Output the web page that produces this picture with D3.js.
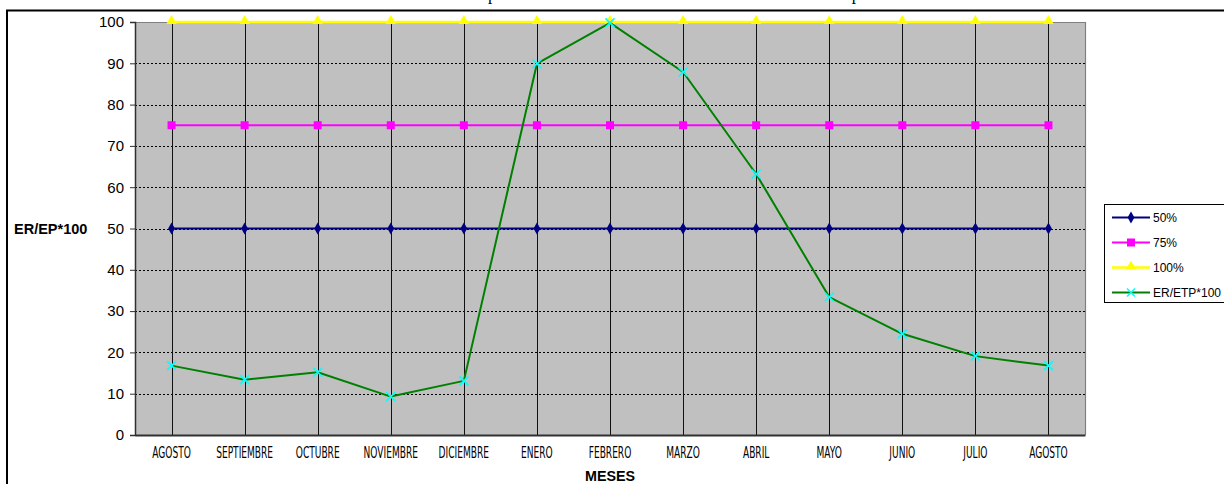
<!DOCTYPE html>
<html>
<head>
<meta charset="utf-8">
<script src="https://cdn.jsdelivr.net/npm/d3@7"></script>
<style>
  html, body { margin: 0; padding: 0; background: #fff; }
  svg { display: block; }
</style>
</head>
<body>
<svg id="chart" width="1224" height="484"></svg>
<script>
// Months of the period (August to August)
const months = ["AGOSTO", "SEPTIEMBRE", "OCTUBRE", "NOVIEMBRE", "DICIEMBRE", "ENERO",
  "FEBRERO", "MARZO", "ABRIL", "MAYO", "JUNIO", "JULIO", "AGOSTO"];

// Reference thresholds
const s50 = [50, 50, 50, 50, 50, 50, 50, 50, 50, 50, 50, 50, 50];
const s75 = [75, 75, 75, 75, 75, 75, 75, 75, 75, 75, 75, 75, 75];
const s100 = [100, 100, 100, 100, 100, 100, 100, 100, 100, 100, 100, 100, 100];

// Real / potential evapotranspiration ratio, in percent
const erEtp = [16.8, 13.4, 15.2, 9.3, 13.1, 89.9, 99.8, 87.9, 63.2, 33.4, 24.5, 19.1, 16.8];

const yTicks = [0, 10, 20, 30, 40, 50, 60, 70, 80, 90, 100];
const seriesNames = ["50%", "75%", "100%", "ER/ETP*100"];

const svg = d3.select("#chart");

const plot = { left: 135, top: 22, right: 1085, bottom: 435 };

const x = d3.scaleBand()
  .domain(d3.range(months.length))
  .range([plot.left, plot.right])
  .padding(0);
const cx = i => x(i) + x.bandwidth() / 2;

const y = d3.scaleLinear().domain([0, 100]).range([plot.bottom, plot.top]);

// Outer chart frame
svg.append("rect")
  .attr("x", 7).attr("y", 10.5)
  .attr("width", 1300).attr("height", 600)
  .attr("fill", "none").attr("stroke", "#000").attr("stroke-width", 2);

// Title line, sitting above the top edge of the page
const title = svg.append("text")
  .attr("y", -0.4)
  .attr("font-family", "'Liberation Serif','Times New Roman',serif")
  .attr("font-size", 16)
  .attr("fill", "#000")
  .text("Comportamiento mensual de la relación ER/EP*100 en el periodo");
{
  const node = title.node();
  const a = node.getStartPositionOfChar(3).x;
  const b = node.getStartPositionOfChar(54).x;
  const k = (853 - 489) / (b - a);
  title.attr("font-size", 16 * k);
  const a2 = node.getStartPositionOfChar(3).x;
  title.attr("x", 488 - a2);
}

// Plot area background
svg.append("rect")
  .attr("x", plot.left).attr("y", plot.top)
  .attr("width", plot.right - plot.left).attr("height", plot.bottom - plot.top)
  .attr("fill", "#c0c0c0");

// Top and right border of the plot area
svg.append("path")
  .attr("d", `M${plot.left},${plot.top + 0.5}H${plot.right + 0.5}V${plot.bottom}`)
  .attr("fill", "none").attr("stroke", "#808080").attr("stroke-width", 1.2);

// Horizontal dashed gridlines
svg.append("g")
  .selectAll("line")
  .data(yTicks.filter(t => t > 0 && t < 100))
  .join("line")
  .attr("x1", plot.left).attr("x2", plot.right)
  .attr("y1", d => Math.round(y(d)) + 0.5).attr("y2", d => Math.round(y(d)) + 0.5)
  .attr("stroke", "#000").attr("stroke-width", 1)
  .attr("stroke-dasharray", "2,2");

// Vertical gridlines at each month
svg.append("g")
  .selectAll("line")
  .data(d3.range(months.length))
  .join("line")
  .attr("x1", d => Math.round(cx(d)) + 0.5).attr("x2", d => Math.round(cx(d)) + 0.5)
  .attr("y1", plot.top).attr("y2", plot.bottom)
  .attr("stroke", "#111").attr("stroke-width", 1);

// Y axis
const yAxis = svg.append("g")
  .attr("transform", `translate(${plot.left},0)`)
  .call(d3.axisLeft(y).tickValues(yTicks).tickSize(5).tickPadding(6));
yAxis.select(".domain").attr("stroke", "#303030").attr("stroke-width", 1.5);
yAxis.selectAll(".tick line").attr("stroke", "#303030");
yAxis.selectAll(".tick text")
  .attr("font-family", "'Liberation Sans',Arial,sans-serif")
  .attr("font-size", 15)
  .attr("fill", "#000");

// X axis
const xAxis = svg.append("g")
  .attr("transform", `translate(0,${plot.bottom})`)
  .call(d3.axisBottom(x).tickSize(0).tickPadding(12).tickFormat(i => months[i]));
xAxis.select(".domain").attr("stroke", "#303030").attr("stroke-width", 2);
const xLabels = xAxis.selectAll(".tick text")
  .attr("font-family", "'Liberation Sans Narrow','DejaVu Sans Condensed',sans-serif")
  .attr("font-size", 15.5)
  .attr("fill", "#000");
{
  // Condense the month labels horizontally
  const ref = xLabels.filter((d, i) => i === 1).node();
  const w = ref.getComputedTextLength();
  const k = 57 / w;
  xLabels.attr("x", 0).attr("transform", `scale(${k},1)`);
}

// Axis titles
svg.append("text")
  .attr("x", 14).attr("y", 234)
  .attr("font-family", "'Liberation Sans',Arial,sans-serif")
  .attr("font-size", 14.5).attr("font-weight", "bold")
  .text("ER/EP*100");

svg.append("text")
  .attr("x", 610).attr("y", 481)
  .attr("text-anchor", "middle")
  .attr("font-family", "'Liberation Sans',Arial,sans-serif")
  .attr("font-size", 14.3).attr("font-weight", "bold")
  .text("MESES");

// Series
const line = d3.line().x((d, i) => cx(i)).y(d => y(d));
const series = [
  { name: seriesNames[0], values: s50, stroke: "#000080", fill: "#000080", width: 2.2, marker: "diamond" },
  { name: seriesNames[1], values: s75, stroke: "#ff00ff", fill: "#ff00ff", width: 2, marker: "square" },
  { name: seriesNames[2], values: s100, stroke: "#ffff00", fill: "#ffff00", width: 2.6, marker: "triangle" },
  { name: seriesNames[3], values: erEtp, stroke: "#008000", fill: "#00ffff", width: 2, marker: "cross" }
];

function drawMarker(g, type, color, size) {
  if (type === "cross") {
    const h = size / 2;
    g.append("path")
      .attr("d", `M${-h},${-h}L${h},${h}M${-h},${h}L${h},${-h}`)
      .attr("stroke", color).attr("stroke-width", 1.6).attr("fill", "none");
    return;
  }
  const sym = type === "diamond" ? d3.symbolDiamond : type === "square" ? d3.symbolSquare : d3.symbolTriangle;
  const area = type === "diamond" ? 40 : type === "square" ? 64 : 48;
  g.append("path")
    .attr("d", d3.symbol().type(sym).size(area)())
    .attr("transform", type === "triangle" ? "translate(0,-1)" : null)
    .attr("fill", color);
}

series.forEach(s => {
  const g = svg.append("g");
  g.append("path")
    .datum(s.values)
    .attr("d", line)
    .attr("fill", "none")
    .attr("stroke", s.stroke)
    .attr("stroke-width", s.width)
    .attr("stroke-linejoin", "round");
  g.selectAll("g.mk")
    .data(s.values)
    .join("g")
    .attr("class", "mk")
    .attr("transform", (d, i) => `translate(${cx(i)},${y(d)})`)
    .each(function () { drawMarker(d3.select(this), s.marker, s.fill, 9); });
});

// Legend
const legend = svg.append("g").attr("transform", "translate(1104,204)");
legend.append("rect")
  .attr("x", 0.5).attr("y", 0.5)
  .attr("width", 200).attr("height", 98)
  .attr("fill", "#fff").attr("stroke", "#000").attr("stroke-width", 1);
series.forEach((s, i) => {
  const ly = 13.5 + i * 25;
  const row = legend.append("g").attr("transform", `translate(0,${ly})`);
  row.append("line")
    .attr("x1", 8).attr("x2", 46)
    .attr("stroke", s.stroke).attr("stroke-width", s.width);
  const m = row.append("g").attr("transform", "translate(27,0)");
  drawMarker(m, s.marker, s.fill, 8);
  row.append("text")
    .attr("x", 49).attr("y", 4.5)
    .attr("font-family", "'Liberation Sans',Arial,sans-serif")
    .attr("font-size", 12)
    .text(s.name);
});
</script>
</body>
</html>
